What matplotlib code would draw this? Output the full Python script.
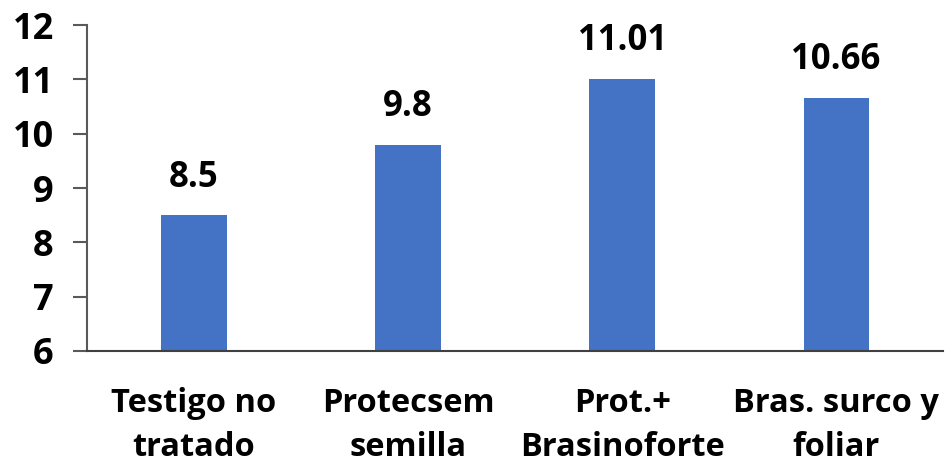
import matplotlib.pyplot as plt
import numpy as np
plt.rcParams['font.family'] = ['Open Sans', 'DejaVu Sans']

# Rendimiento por tratamiento
categories = ['Testigo no\ntratado', 'Protecsem\nsemilla', 'Prot.+\nBrasinoforte', 'Bras. surco y\nfoliar']
values = [8.5, 9.8, 11.01, 10.66]
value_labels = ['8.5', '9.8', '11.01', '10.66']

fig = plt.figure(figsize=(9.46, 4.66), dpi=100)
ax = fig.add_axes([0.092, 0.247, 0.905, 0.699])

x = np.arange(len(categories))
bars = ax.bar(x, values, width=0.305, color='#4472C4', bottom=0)

for bar, lab in zip(bars, value_labels):
    ax.annotate(lab, (bar.get_x() + bar.get_width() / 2, bar.get_height()),
                xytext=(0, 14), textcoords='offset points',
                ha='center', va='bottom', fontsize=25, fontweight='bold')

ax.set_ylim(6, 12)
ax.set_xlim(-0.5, 3.5)
ax.set_yticks(range(6, 13))
ax.set_xticks(x)
ax.set_xticklabels(categories, fontsize=23.5, fontweight='bold', linespacing=1.45)
for t in ax.get_yticklabels():
    t.set_fontsize(26)
    t.set_fontweight('bold')

ax.spines['top'].set_visible(False)
ax.spines['right'].set_visible(False)
ax.spines['left'].set_color('#595959')
ax.spines['bottom'].set_color('#404040')
ax.spines['left'].set_linewidth(1.5)
ax.spines['bottom'].set_linewidth(1.5)
ax.tick_params(axis='y', length=10, width=1.5, color='#595959', pad=14)
ax.tick_params(axis='x', length=0, pad=26)

fig.savefig('out.png', dpi=100)
